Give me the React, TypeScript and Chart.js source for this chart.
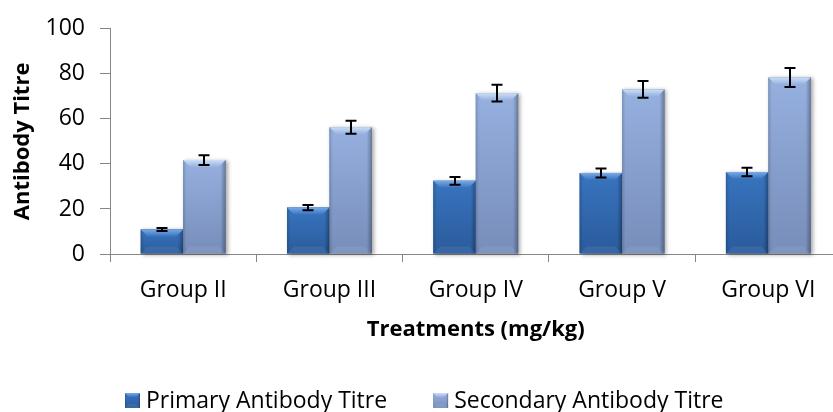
import React, { useEffect, useRef } from "react";
import { Chart, registerables } from "chart.js";

Chart.register(...registerables);

const categories = ["Group II", "Group III", "Group IV", "Group V", "Group VI"];
const primaryTitre = [10.9, 20.6, 32.5, 36.0, 36.4];
const primaryError = [0.7, 1.2, 1.7, 2.0, 1.9];
const secondaryTitre = [41.7, 56.3, 71.4, 73.1, 78.4];
const secondaryError = [2.2, 2.9, 3.7, 3.7, 4.2];
const seriesNames = ["Primary Antibody Titre", "Secondary Antibody Titre"];
const yMin = 0;
const yMax = 100;
const yStep = 20;
const xTitle = "Treatments (mg/kg)";
const yTitle = "Antibody Titre";

const FONT = "'Open Sans', 'Noto Sans', sans-serif";
const CANVAS_W = 850;
const CANVAS_H = 412;
const AXIS_GREY = "#868686";

const palettes = [
  { base: "#3169b1", light: "#78aae6", top: "#3874bf", bottom: "#2a5b9b" },
  { base: "#8aa4d4", light: "#cddff5", top: "#96b0df", bottom: "#778dba" },
];

const errors = [primaryError, secondaryError];

function drawBevelBox(ctx: CanvasRenderingContext2D, x0: number, top: number, w: number, h: number, pal: any, bevel: number, shadow: boolean) {
  const x1 = x0 + w;
  const bot = top + h;
  const b = Math.max(0, Math.min(bevel, h / 2, w / 2));
  ctx.save();
  if (shadow) {
    ctx.shadowColor = "rgba(0,0,0,0.35)";
    ctx.shadowBlur = 4;
    ctx.shadowOffsetX = 2;
    ctx.shadowOffsetY = 1;
  }
  const g = ctx.createLinearGradient(0, top, 0, bot);
  g.addColorStop(0, pal.top);
  g.addColorStop(1, pal.bottom);
  ctx.fillStyle = g;
  ctx.fillRect(x0, top, w, h);
  ctx.restore();

  ctx.save();
  const hg = ctx.createLinearGradient(x0, 0, x1, 0);
  hg.addColorStop(0, "rgba(0,0,0,0.16)");
  hg.addColorStop(0.08, "rgba(0,0,0,0)");
  hg.addColorStop(0.88, "rgba(0,0,0,0)");
  hg.addColorStop(1, "rgba(0,0,0,0.3)");
  ctx.fillStyle = hg;
  ctx.fillRect(x0, top, w, h);

  const tg = ctx.createLinearGradient(0, top, 0, top + b);
  tg.addColorStop(0, pal.light);
  tg.addColorStop(1, pal.top);
  ctx.beginPath();
  ctx.moveTo(x0, top);
  ctx.lineTo(x1, top);
  ctx.lineTo(x1 - b, top + b);
  ctx.lineTo(x0 + b, top + b);
  ctx.closePath();
  ctx.fillStyle = tg;
  ctx.fill();

  ctx.beginPath();
  ctx.moveTo(x0, bot);
  ctx.lineTo(x1, bot);
  ctx.lineTo(x1 - b, bot - b);
  ctx.lineTo(x0 + b, bot - b);
  ctx.closePath();
  ctx.fillStyle = "rgba(255,255,255,0.07)";
  ctx.fill();
  ctx.restore();
}

const styledBarsPlugin = {
  id: "styledBars",
  afterDatasetsDraw(chart: any) {
    const ctx: CanvasRenderingContext2D = chart.ctx;
    const yScale = chart.scales.y;
    chart.data.datasets.forEach((ds: any, di: number) => {
      const meta = chart.getDatasetMeta(di);
      const pal = palettes[di];
      meta.data.forEach((bar: any) => {
        const { x, y, base, width } = bar.getProps(["x", "y", "base", "width"], true);
        const top = Math.min(y, base);
        const h = Math.abs(base - y);
        drawBevelBox(ctx, x - width / 2, top, width, h, pal, 7, true);
      });
    });
    // error bars
    ctx.save();
    ctx.strokeStyle = "#000";
    ctx.lineWidth = 2;
    chart.data.datasets.forEach((ds: any, di: number) => {
      const meta = chart.getDatasetMeta(di);
      meta.data.forEach((bar: any, i: number) => {
        const v = ds.data[i];
        const e = errors[di][i];
        const x = Math.round(bar.x);
        const yHi = yScale.getPixelForValue(v + e);
        const yLo = yScale.getPixelForValue(v - e);
        const cap = 5.5;
        ctx.beginPath();
        ctx.moveTo(x, yHi);
        ctx.lineTo(x, yLo);
        ctx.moveTo(x - cap, yHi);
        ctx.lineTo(x + cap, yHi);
        ctx.moveTo(x - cap, yLo);
        ctx.lineTo(x + cap, yLo);
        ctx.stroke();
      });
    });
    ctx.restore();
  },
  afterDraw(chart: any) {
    const ctx: CanvasRenderingContext2D = chart.ctx;
    ctx.save();
    ctx.font = `23px ${FONT}`;
    ctx.textBaseline = "alphabetic";
    ctx.fillStyle = "#000";
    const baseline = 408;
    const marker = 15;
    let x = 125;
    seriesNames.forEach((name, i) => {
      drawBevelBox(ctx, x, baseline - marker, marker, marker, palettes[i], 4, false);
      x += marker + 6;
      ctx.fillStyle = "#000";
      ctx.fillText(name, x, baseline);
      x += ctx.measureText(name).width + 46;
    });
    ctx.restore();
  },
};

export default function App() {
  const ref = useRef<HTMLCanvasElement | null>(null);

  useEffect(() => {
    if (!ref.current) return;
    const chart = new Chart(ref.current, {
      type: "bar",
      data: {
        labels: categories,
        datasets: [
          {
            label: seriesNames[0],
            data: primaryTitre,
            backgroundColor: palettes[0].base,
            categoryPercentage: 0.58,
            barPercentage: 1.0,
          },
          {
            label: seriesNames[1],
            data: secondaryTitre,
            backgroundColor: palettes[1].base,
            categoryPercentage: 0.58,
            barPercentage: 1.0,
          },
        ],
      },
      options: {
        responsive: false,
        animation: false,
        layout: { padding: { top: 27, left: 0, right: 8.5, bottom: 0 } },
        plugins: {
          legend: { display: false },
          tooltip: { enabled: false },
        },
        scales: {
          x: {
            afterFit: (scale: any) => {
              scale.height = 158;
            },
            grid: {
              offset: true,
              drawOnChartArea: false,
              drawTicks: true,
              tickLength: 8,
              color: AXIS_GREY,
            },
            border: { display: true, color: AXIS_GREY, width: 1 },
            ticks: {
              color: "#000",
              padding: 14.6,
              font: { family: FONT, size: 23, lineHeight: 1.2 },
            },
            title: {
              display: true,
              text: xTitle,
              color: "#000",
              padding: { top: 0, bottom: 69 },
              font: { family: FONT, size: 22, weight: "bold", lineHeight: 1.2 },
            },
          },
          y: {
            min: yMin,
            max: yMax,
            afterFit: (scale: any) => {
              scale.width = 110;
            },
            ticks: {
              stepSize: yStep,
              color: "#000",
              padding: 15,
              font: { family: FONT, size: 23, lineHeight: 1.2 },
            },
            grid: {
              drawOnChartArea: false,
              drawTicks: true,
              tickLength: 10,
              color: AXIS_GREY,
            },
            border: { display: true, color: AXIS_GREY, width: 1 },
            title: {
              display: true,
              text: yTitle,
              color: "#000",
              padding: { top: 9.3, bottom: 0 },
              font: { family: FONT, size: 22, weight: "bold", lineHeight: 1.2 },
            },
          },
        },
      },
      plugins: [styledBarsPlugin],
    } as any);
    return () => chart.destroy();
  }, []);

  return (
    <div
      style={{
        position: "fixed",
        left: 0,
        top: 0,
        width: 833,
        height: 412,
        overflow: "hidden",
        background: "#fff",
      }}
    >
      <canvas ref={ref} width={CANVAS_W} height={CANVAS_H} style={{ display: "block" }} />
    </div>
  );
}
